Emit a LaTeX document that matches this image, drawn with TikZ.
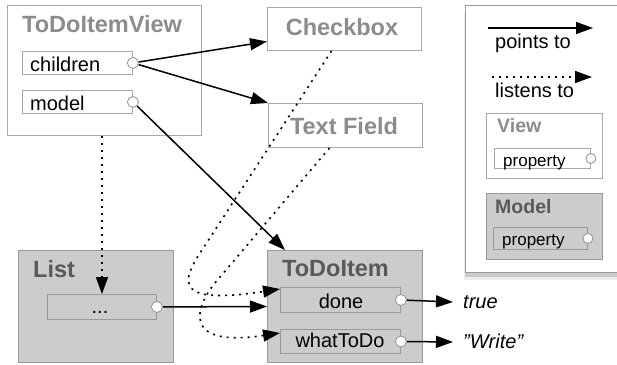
\documentclass[tikz,border=0pt]{standalone}
\usepackage{fontspec}
\setmainfont{Liberation Sans}
\usepackage{tikz}
\usepackage{xcolor}
\usetikzlibrary{arrows.meta}
\usetikzlibrary{shadows}

\definecolor{boxline}{HTML}{A8A8A8}
\definecolor{modelfill}{HTML}{CCCCCC}
\definecolor{modelline}{HTML}{999999}
\definecolor{viewtitle}{HTML}{8C8C8C}
\definecolor{modeltitle}{HTML}{595959}

\tikzset{
  viewbox/.style={draw=boxline, fill=white, line width=1pt, inner sep=0pt, anchor=north west},
  modelbox/.style={draw=modelline, fill=modelfill, line width=1pt, inner sep=0pt, anchor=north west},
  viewprop/.style={draw=boxline, fill=white, line width=0.9pt, inner sep=0pt, anchor=north west},
  modelprop/.style={draw=modelline, fill=modelfill, line width=0.9pt, inner sep=0pt, anchor=north west},
  port/.style={circle, draw=modelline, fill=white, line width=0.9pt, minimum size=11pt, inner sep=0pt},
  bigtitle/.style={font=\fontsize{23.5}{26}\selectfont\bfseries, inner sep=0pt},
  smalltitle/.style={font=\fontsize{19.5}{22}\selectfont\bfseries, inner sep=0pt, anchor=base west},
  proptext/.style={font=\fontsize{20}{24}\selectfont, inner sep=0pt},
  valtext/.style={font=\fontsize{20}{24}\selectfont\itshape, inner sep=0pt, anchor=base west},
  pointsto/.style={line width=1.5pt, -{Triangle[length=17pt,width=12pt]}},
  listensto/.style={line width=1.6pt, dash pattern=on 2pt off 5pt, -{Triangle[length=17pt,width=12pt]}}
}

\begin{document}
\begin{tikzpicture}[x=1pt, y=-1pt]
\useasboundingbox (0,0) rectangle (617,364);

\node[viewbox, draw=modelline, minimum width=175pt, minimum height=267pt,
  drop shadow={shadow xshift=-2pt, shadow yshift=-7pt, opacity=0.15},
  drop shadow={shadow xshift=-1pt, shadow yshift=-4pt, opacity=0.3}] (legend) at (465,5) {};
\coordinate (pa) at (488,28);
\coordinate (pb) at (593,28);
\draw[pointsto] (pa) -- (pb);
\node[proptext, anchor=base west] (pttext) at (495,48) {points to};
\coordinate (la) at (492,77);
\coordinate (lb) at (592,77);
\draw[listensto] (la) -- (lb);
\node[proptext, anchor=base west] (lttext) at (495,97) {listens to};

\node[viewbox, minimum width=116pt, minimum height=65pt] (lview) at (486,113) {};
\node[smalltitle, text=viewtitle] (lviewtitle) at (497,132) {View};
\node[viewprop, minimum width=96pt, minimum height=20pt] (lvp) at (494,148) {};
\node[proptext, font=\fontsize{17}{20}\selectfont, anchor=base west] at (503,166) {property};
\node[port, minimum size=10pt] (lvport) at (lvp.east) {};

\node[modelbox, minimum width=116pt, minimum height=66pt] (lmodel) at (486,193) {};
\node[smalltitle, text=modeltitle] (lmodeltitle) at (495,213) {Model};
\node[modelprop, minimum width=94pt, minimum height=22pt] (lmp) at (493,227) {};
\node[proptext, font=\fontsize{17}{20}\selectfont, anchor=base west] at (502,245) {property};
\node[port, minimum size=10pt] (lmport) at (lmp.east) {};

\node[viewbox, minimum width=194pt, minimum height=130pt] (view) at (7,5) {};
\node[bigtitle, text=viewtitle, anchor=base west] (viewtitle) at (22,32) {ToDoItemView};
\node[viewprop, minimum width=110pt, minimum height=23pt] (chp) at (22,51) {};
\node[proptext, anchor=base west] at (30,71) {children};
\node[port] (chport) at (chp.east) {};
\node[viewprop, minimum width=110pt, minimum height=23pt] (mp) at (22,90) {};
\node[proptext, anchor=base west] at (30,110) {model};
\node[port] (mport) at (mp.east) {};

\node[viewbox, minimum width=154pt, minimum height=43pt] (chk) at (267,7) {};
\node[bigtitle, text=viewtitle, anchor=base] at (342,35) {Checkbox};
\node[viewbox, minimum width=154pt, minimum height=44pt] (tf) at (268,103) {};
\node[bigtitle, text=viewtitle, anchor=base] at (344,134) {Text Field};

\node[modelbox, minimum width=155pt, minimum height=112pt] (list) at (18,250) {};
\node[bigtitle, text=modeltitle, anchor=base west] (listtitle) at (33,277) {List};
\node[modelprop, minimum width=109pt, minimum height=25pt] (lp) at (47,294) {};
\node[proptext, anchor=base] at (100,313) {...};
\node[port] (lport) at (lp.east) {};

\node[modelbox, minimum width=155pt, minimum height=112pt] (item) at (267,250) {};
\node[bigtitle, text=modeltitle, anchor=base west] (itemtitle) at (282,276) {ToDoItem};
\node[modelprop, minimum width=120pt, minimum height=25pt] (dp) at (280,287) {};
\node[proptext, anchor=base] at (341,308) {done};
\node[port] (dport) at (dp.east) {};
\node[modelprop, minimum width=120pt, minimum height=24pt] (wp) at (280,329) {};
\node[proptext, anchor=base] at (340,347) {whatToDo};
\node[port] (wport) at (wp.east) {};

\node[valtext] (truetxt) at (463,308) {true};
\node[valtext] (writetxt) at (463,348) {\char"22 Write\char"22};

\draw[pointsto] (chport) -- ([yshift=-12.5pt]chk.west);
\draw[pointsto] (chport) -- (tf.north west);
\draw[pointsto] (mport) -- ([xshift=18pt]item.north west);
\draw[listensto] (view.south -| lp.north) -- (lp.north);
\draw[pointsto] (lport) -- (item.west);
\draw[pointsto] (dport) -- ([xshift=-10pt,yshift=6pt]truetxt.base west);
\draw[pointsto] (wport) -- ([xshift=-10pt,yshift=6pt]writetxt.base west);

\draw[listensto] ([xshift=-13pt]chk.south) -- (202,250)
  .. controls (180,283) and (175,305) .. ([yshift=-2pt]dp.north west);
\draw[listensto] ([xshift=-16pt]tf.south) -- (215,283)
  .. controls (196,306) and (180,348) .. ([yshift=-4pt]wp.north west);
\end{tikzpicture}
\end{document}
